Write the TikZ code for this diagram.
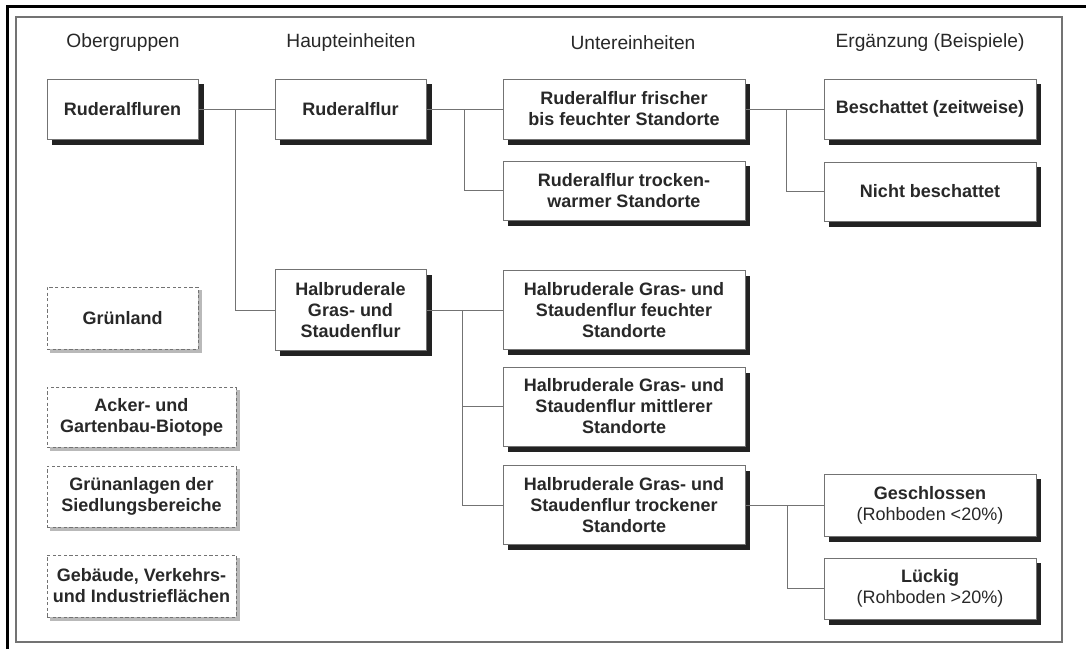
\documentclass[tikz,border=0pt]{standalone}
\usepackage{fontspec}
\setmainfont{Liberation Sans}
\definecolor{shadowdark}{RGB}{34,34,34}
\definecolor{shadowlight}{RGB}{185,185,185}
\definecolor{linegray}{RGB}{115,115,115}
\definecolor{textgray}{RGB}{40,40,40}

\begin{document}
\begin{tikzpicture}[x=0.5pt, y=-0.5pt,
    head/.style={font=\fontsize{9.6}{11}\selectfont, text=textgray},
    unit/.style={draw=linegray, line width=0.5pt, fill=white, align=center,
        font=\bfseries\fontsize{9}{10.5}\selectfont, text=textgray, inner sep=1pt},
    other/.style={draw=linegray, line width=0.5pt, dash pattern=on 1.6pt off 1.2pt, fill=white,
        align=center, font=\bfseries\fontsize{9}{10.5}\selectfont, text=textgray, inner sep=1pt},
    darkshadow/.style={fill=shadowdark},
    lightshadow/.style={fill=shadowlight},
    conn/.style={draw=linegray, line width=0.5pt}]
    \useasboundingbox (0,0) rectangle (1086,649);

    % Frames
    \draw[line width=1.5pt] (7,649) -- (7,6) -- (1086,6);
    \draw[linegray, line width=0.6pt] (16,17) rectangle (1062,642);

    % Shadows
    \fill[darkshadow] (52,84) rectangle (204,145);
    \fill[darkshadow] (280,84) rectangle (432,145);
    \fill[darkshadow] (280,275) rectangle (432,356);
    \fill[darkshadow] (508,84) rectangle (750,145);
    \fill[darkshadow] (508,166) rectangle (750,226);
    \fill[darkshadow] (508,276) rectangle (750,355);
    \fill[darkshadow] (508,373) rectangle (750,452);
    \fill[darkshadow] (508,471) rectangle (750,550);
    \fill[darkshadow] (829,84) rectangle (1041,145);
    \fill[darkshadow] (829,167) rectangle (1041,227);
    \fill[darkshadow] (829,479) rectangle (1041,542);
    \fill[darkshadow] (829,563) rectangle (1041,625);
    \fill[lightshadow] (50,290) rectangle (202,353);
    \fill[lightshadow] (50,390) rectangle (240,451);
    \fill[lightshadow] (50,469) rectangle (240,531);
    \fill[lightshadow] (50,558) rectangle (240,621);

    % Column headings
    \node[head] (og) at (123,43) {Obergruppen};
    \node[head] (hg) at (351,43) {Haupteinheiten};
    \node[head] (ug) at (633,43) {Untereinheiten};
    \node[head] (eg) at (930,43) {Ergänzung (Beispiele)};

    % Obergruppen
    \node[unit, minimum width=75.5pt, minimum height=30pt] (rfn) at (122.5,109) {Ruderalfluren};
    \node[other, minimum width=75.5pt, minimum height=31pt] (gru) at (122.5,318) {Grünland};
    \node[other, minimum width=94.5pt, minimum height=30pt] (ack) at (141.5,417) {Acker- und\\Gartenbau-Biotope};
    \node[other, minimum width=94.5pt, minimum height=30.5pt] (gra) at (141.5,496.5) {Grünanlagen der\\Siedlungsbereiche};
    \node[other, minimum width=94.5pt, minimum height=31pt] (geb) at (141.5,586) {Gebäude, Verkehrs-\\und Industrieflächen};

    % Haupteinheiten
    \node[unit, minimum width=75.5pt, minimum height=30pt] (rf) at (350.5,109) {Ruderalflur};
    \node[unit, minimum width=75.5pt, minimum height=40.5pt] (hgs) at (350.5,310) {Halbruderale\\Gras- und\\Staudenflur};

    % Untereinheiten
    \node[unit, minimum width=121pt, minimum height=30pt] (rff) at (624,109) {Ruderalflur frischer\\bis feuchter Standorte};
    \node[unit, minimum width=121pt, minimum height=29.5pt] (rtw) at (624,190.5) {Ruderalflur trocken-\\warmer Standorte};
    \node[unit, minimum width=121pt, minimum height=39.5pt] (hfe) at (624,310) {Halbruderale Gras- und\\Staudenflur feuchter\\Standorte};
    \node[unit, minimum width=121pt, minimum height=39.5pt] (hmi) at (624,406.5) {Halbruderale Gras- und\\Staudenflur mittlerer\\Standorte};
    \node[unit, minimum width=121pt, minimum height=39.5pt] (htr) at (624,505) {Halbruderale Gras- und\\Staudenflur trockener\\Standorte};

    % Ergaenzung
    \node[unit, minimum width=106pt, minimum height=30pt] (bes) at (930,109) {Beschattet (zeitweise)};
    \node[unit, minimum width=106pt, minimum height=29.5pt] (nbes) at (930,191.5) {Nicht beschattet};
    \node[unit, minimum width=106pt, minimum height=31pt] (ges) at (930,505) {Geschlossen\\\mdseries(Rohboden <20\%)};
    \node[unit, minimum width=106pt, minimum height=30.5pt] (lue) at (930,588.5) {Lückig\\\mdseries(Rohboden >20\%)};

    % Junctions
    \coordinate (j1) at (235,109);
    \coordinate (j2) at (464,109);
    \coordinate (j3) at (786,109);
    \coordinate (j4) at (462,310);
    \coordinate (j5) at (787,505);

    % Connectors
    \draw[conn] (rfn) -- (rf);
    \draw[conn] (j1) |- (hgs);
    \draw[conn] (rf) -- (rff);
    \draw[conn] (j2) |- (rtw);
    \draw[conn] (rff) -- (bes);
    \draw[conn] (j3) |- (nbes);
    \draw[conn] (hgs) -- (hfe);
    \draw[conn] (j4) |- (hmi);
    \draw[conn] (j4) |- (htr);
    \draw[conn] (htr) -- (ges);
    \draw[conn] (j5) |- (lue);
\end{tikzpicture}
\end{document}
